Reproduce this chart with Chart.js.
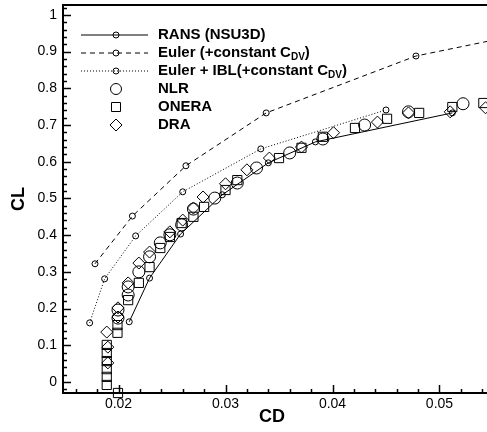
<!DOCTYPE html>
<html>
<head>
<meta charset="utf-8">
<script src="https://cdn.jsdelivr.net/npm/chart.js@4.4.1/dist/chart.umd.min.js"></script>
<style>
  html, body { margin: 0; padding: 0; background: #fff; }
  #wrap { width: 487px; height: 432px; position: relative; }
</style>
</head>
<body>
<div id="wrap"><canvas id="polar"></canvas></div>
<script>
// CL vs CD drag polar - computed curves + three wind tunnel data sets
const X_TICKS = [0.02, 0.03, 0.04, 0.05];
const Y_TICKS = [0, 0.1, 0.2, 0.3, 0.4, 0.5, 0.6, 0.7, 0.8, 0.9, 1];
const X_MIN = 0.01481, X_MAX = 0.05444;
const Y_MIN = -0.030, Y_MAX = 1.027;

const ransCD = [0.0210, 0.0229, 0.0258, 0.0297, 0.0340, 0.0384, 0.0512];
const ransCL = [0.164, 0.283, 0.403, 0.510, 0.597, 0.654, 0.733];

const eulerCD = [0.0178, 0.0213, 0.0263, 0.0338, 0.0478, 0.0615];
const eulerCL = [0.322, 0.452, 0.589, 0.733, 0.888, 0.970];

const iblCD = [0.0173, 0.0187, 0.0216, 0.0260, 0.0333, 0.0450];
const iblCL = [0.161, 0.281, 0.398, 0.518, 0.635, 0.741];

const nlrCD = [0.01995, 0.01995, 0.0209, 0.0209, 0.0219, 0.0229, 0.0239, 0.0248, 0.0259,
  0.0270, 0.0290, 0.0311, 0.0329, 0.0360, 0.0391, 0.0430, 0.0471, 0.0522];
const nlrCL = [0.196, 0.174, 0.259, 0.237, 0.300, 0.341, 0.379, 0.401, 0.428,
  0.471, 0.501, 0.542, 0.583, 0.624, 0.662, 0.700, 0.736, 0.758];

const oneraCD = [0.0189, 0.0189, 0.0189, 0.0189, 0.0189, 0.0189, 0.01995, 0.0199, 0.0199,
  0.0209, 0.0219, 0.0229, 0.0239, 0.0248, 0.0259, 0.0270, 0.0280, 0.0300, 0.0311,
  0.0350, 0.0371, 0.0391, 0.0421, 0.0451, 0.0481, 0.0512, 0.0541];
const oneraCL = [0.101, 0.079, 0.057, 0.035, 0.014, -0.008, -0.030, 0.155, 0.134,
  0.223, 0.270, 0.313, 0.365, 0.395, 0.433, 0.450, 0.477, 0.523, 0.550,
  0.610, 0.638, 0.668, 0.692, 0.717, 0.733, 0.749, 0.760];

const draCD = [0.0189, 0.0190, 0.0190, 0.01995, 0.01995, 0.0209, 0.0219, 0.0229, 0.0248,
  0.0260, 0.0270, 0.0279, 0.0300, 0.0320, 0.0341, 0.0371, 0.0401, 0.0442, 0.0471,
  0.0510, 0.0543];
const draCL = [0.136, 0.095, 0.052, 0.202, 0.177, 0.270, 0.324, 0.354, 0.409,
  0.441, 0.474, 0.504, 0.540, 0.578, 0.610, 0.640, 0.679, 0.708, 0.733,
  0.736, 0.747];

const pts = (xs, ys) => xs.map((x, i) => ({ x: x, y: ys[i] }));

const FONT = '"Liberation Sans", Arial, Helvetica, sans-serif';
Chart.defaults.font.family = FONT;
Chart.defaults.color = '#000';

function lineSet(data, dash) {
  return {
    data: data,
    showLine: true,
    borderColor: '#000',
    borderWidth: 1,
    borderDash: dash,
    pointStyle: 'circle',
    pointRadius: 3,
    pointBorderWidth: 1,
    pointBorderColor: '#000',
    pointBackgroundColor: 'rgba(0,0,0,0)'
  };
}

function symbolSet(data, style, r) {
  return {
    data: data,
    showLine: false,
    pointStyle: style,
    pointRadius: r,
    pointBorderWidth: 1,
    pointBorderColor: '#000',
    pointBackgroundColor: 'rgba(0,0,0,0)',
    clip: false
  };
}

// legend rows (drawn by hand so the C_DV subscript works)
const legendRows = [
  { text: 'RANS (NSU3D)', kind: 'line', dash: [] },
  { text: 'Euler (+constant C', sub: 'DV', kind: 'line', dash: [5, 4] },
  { text: 'Euler + IBL(+constant C', sub: 'DV', kind: 'line', dash: [1, 2] },
  { text: 'NLR', kind: 'circle' },
  { text: 'ONERA', kind: 'square' },
  { text: 'DRA', kind: 'diamond' }
];

function marker(ctx, kind, x, y) {
  ctx.beginPath();
  if (kind === 'circle') ctx.arc(x, y, 5.5, 0, Math.PI * 2);
  else if (kind === 'square') ctx.rect(x - 4.5, y - 4.5, 9, 9);
  else if (kind === 'diamond') {
    ctx.moveTo(x - 6, y); ctx.lineTo(x, y - 6); ctx.lineTo(x + 6, y); ctx.lineTo(x, y + 6);
    ctx.closePath();
  } else ctx.arc(x, y, 3, 0, Math.PI * 2);
  ctx.stroke();
}

const framePlugin = {
  id: 'frame',
  afterDraw(chart) {
    const ctx = chart.ctx;
    const a = chart.chartArea;
    const xs = chart.scales.x, ys = chart.scales.y;
    ctx.save();
    ctx.strokeStyle = '#000';

    // top edge of the box
    ctx.lineWidth = 2;
    ctx.beginPath();
    ctx.moveTo(a.left, a.top);
    ctx.lineTo(a.right, a.top);
    ctx.stroke();

    // inward ticks, Tecplot style
    ctx.lineWidth = 1.5;
    for (let k = -1; k <= 51; k++) {
      const v = k * 0.02;
      if (v < Y_MIN || v > Y_MAX) continue;
      const py = Math.round(ys.getPixelForValue(v)) + 0.5;
      const len = k % 5 === 0 ? 8 : 4;
      ctx.beginPath();
      ctx.moveTo(a.left, py);
      ctx.lineTo(a.left + len, py);
      ctx.stroke();
    }
    for (let k = 7; k <= 28; k++) {
      const v = k * 0.002;
      if (v < X_MIN || v > X_MAX) continue;
      const px = Math.round(xs.getPixelForValue(v)) + 0.5;
      const len = k % 5 === 0 ? 8 : 4;
      ctx.beginPath();
      ctx.moveTo(px, a.bottom);
      ctx.lineTo(px, a.bottom - len);
      ctx.stroke();
    }

    // axis titles
    ctx.fillStyle = '#000';
    ctx.font = 'bold 18px ' + FONT;
    ctx.textAlign = 'center';
    ctx.textBaseline = 'middle';
    ctx.fillText('CD', 272, 417);
    ctx.save();
    ctx.translate(19, (a.top + a.bottom) / 2);
    ctx.rotate(-Math.PI / 2);
    ctx.fillText('CL', 0, 0);
    ctx.restore();

    // legend
    ctx.textAlign = 'left';
    ctx.lineWidth = 1;
    legendRows.forEach((row, i) => {
      const y = 35 + i * 18;
      if (row.kind === 'line') {
        ctx.setLineDash(row.dash);
        ctx.beginPath();
        ctx.moveTo(81, y);
        ctx.lineTo(148, y);
        ctx.stroke();
        ctx.setLineDash([]);
        marker(ctx, 'small', 116, y);
      } else {
        marker(ctx, row.kind, 116, y);
      }
      ctx.font = 'bold 15px ' + FONT;
      ctx.fillText(row.text, 158, y);
      if (row.sub) {
        let x = 158 + ctx.measureText(row.text).width;
        ctx.font = 'bold 10px ' + FONT;
        ctx.fillText(row.sub, x, y + 4);
        x += ctx.measureText(row.sub).width;
        ctx.font = 'bold 15px ' + FONT;
        ctx.fillText(')', x, y);
      }
    });
    ctx.restore();
  }
};

new Chart(document.getElementById('polar'), {
  type: 'scatter',
  data: {
    datasets: [
      lineSet(pts(ransCD, ransCL), []),
      lineSet(pts(eulerCD, eulerCL), [5, 4]),
      lineSet(pts(iblCD, iblCL), [1, 2]),
      symbolSet(pts(nlrCD, nlrCL), 'circle', 6),
      symbolSet(pts(oneraCD, oneraCL), 'rect', 6.5),
      symbolSet(pts(draCD, draCL), 'rectRot', 6)
    ]
  },
  options: {
    responsive: true,
    maintainAspectRatio: false,
    animation: false,
    events: [],
    layout: { autoPadding: false, padding: { left: 0, right: 0, top: 5, bottom: 0 } },
    plugins: { legend: { display: false }, tooltip: { enabled: false } },
    scales: {
      x: {
        type: 'linear',
        min: X_MIN,
        max: X_MAX,
        grid: { display: false, drawTicks: false },
        border: { display: true, color: '#000', width: 2 },
        ticks: { font: { size: 14 }, padding: 3, color: '#000', callback: v => String(v) },
        afterBuildTicks: s => { s.ticks = X_TICKS.map(v => ({ value: v })); },
        afterFit: s => { s.height = 39; s.paddingLeft = 0; s.paddingRight = 0; }
      },
      y: {
        type: 'linear',
        min: Y_MIN,
        max: Y_MAX,
        grid: { display: false, drawTicks: false },
        border: { display: true, color: '#000', width: 2 },
        ticks: { font: { size: 14 }, padding: 6, color: '#000', callback: v => String(v) },
        afterBuildTicks: s => { s.ticks = Y_TICKS.map(v => ({ value: v })); },
        afterFit: s => { s.width = 63; s.paddingTop = 0; s.paddingBottom = 0; }
      }
    }
  },
  plugins: [framePlugin]
});
</script>
</body>
</html>
